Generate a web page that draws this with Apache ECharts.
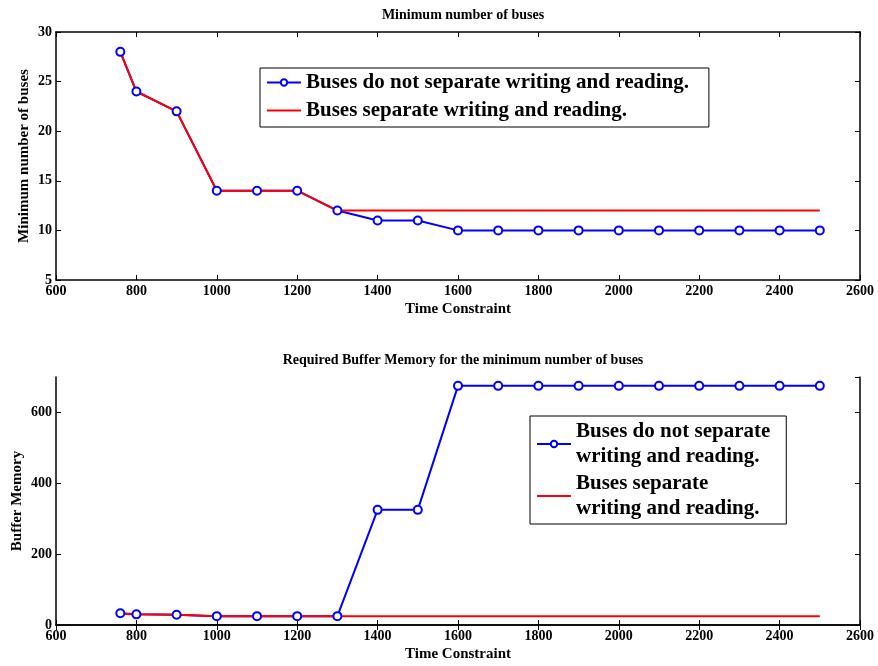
<!DOCTYPE html>
<html>
<head>
<meta charset="utf-8">
<script src="https://cdn.jsdelivr.net/npm/echarts@6/dist/echarts.min.js"></script>
<style>html,body{margin:0;padding:0;background:#fff}#c{width:878px;height:666px}</style>
</head>
<body>
<div id="c"></div>
<script>
var timeConstraint = [760, 800, 900, 1000, 1100, 1200, 1300, 1400, 1500, 1600, 1700, 1800, 1900, 2000, 2100, 2200, 2300, 2400, 2500];
var busesNoSep = [28, 24, 22, 14, 14, 14, 12, 11, 11, 10, 10, 10, 10, 10, 10, 10, 10, 10, 10];
var busesSep = [28, 24, 22, 14, 14, 14, 12, 12, 12, 12, 12, 12, 12, 12, 12, 12, 12, 12, 12];
var memNoSep = [33, 30, 29, 25, 25, 25, 25, 325, 325, 675, 675, 675, 675, 675, 675, 675, 675, 675, 675];
var memSep = [31, 30, 29, 25, 25, 25, 25, 25, 25, 25, 25, 25, 25, 25, 25, 25, 25, 25, 25];
var nameA = 'Buses do not separate writing and reading.';
var nameB = 'Buses separate writing and reading.';

function pairs(xs, ys) { return xs.map(function (x, i) { return [x, ys[i]]; }); }

var F = 'Liberation Serif';
var plain = function (v) { return String(v); };
var lbl = { fontFamily: F, fontWeight: 'bold', fontSize: 14, color: '#000', formatter: plain };
var axLine = { show: true, lineStyle: { color: '#000', width: 1.5 } };
var tick = { show: true, inside: true, length: 5, lineStyle: { color: '#000', width: 1 } };

function xAxes(g) {
  return [
    { type: 'value', gridIndex: g, min: 600, max: 2600, interval: 200, position: 'bottom',
      axisLine: axLine, axisTick: tick, splitLine: { show: false },
      axisLabel: Object.assign({ margin: 4 }, lbl),
      name: 'Time Constraint', nameLocation: 'middle', nameGap: 22,
      nameTextStyle: { fontFamily: F, fontWeight: 'bold', fontSize: 15, color: '#000' } },
    { type: 'value', gridIndex: g, min: 600, max: 2600, interval: 200, position: 'top',
      axisLine: axLine, axisTick: tick, splitLine: { show: false }, axisLabel: { show: false } }
  ];
}

var legendData = [nameA, { name: nameB, itemStyle: { opacity: 0 } }];

var c = echarts.init(document.getElementById('c'));
c.setOption({
  animation: false,
  backgroundColor: '#fff',
  title: [
    { text: 'Minimum number of buses', left: 458, top: 3, textAlign: 'center',
      textStyle: { fontFamily: F, fontWeight: 'bold', fontSize: 14, color: '#000' } },
    { text: 'Required Buffer Memory for the minimum number of buses', left: 458, top: 348, textAlign: 'center',
      textStyle: { fontFamily: F, fontWeight: 'bold', fontSize: 14, color: '#000' } }
  ],
  grid: [
    { left: 56, right: 18, top: 32, height: 248, outerBoundsMode: 'none', containLabel: false },
    { left: 56, right: 18, top: 377, height: 248, outerBoundsMode: 'none', containLabel: false }
  ],
  xAxis: xAxes(0).concat(xAxes(1)),
  yAxis: [
    { type: 'value', gridIndex: 0, min: 5, max: 30, interval: 5, position: 'left',
      axisLine: axLine, axisTick: tick, splitLine: { show: false },
      axisLabel: Object.assign({ margin: 4 }, lbl),
      name: 'Minimum number of buses', nameLocation: 'middle', nameGap: 24, nameMoveOverlap: false,
      nameTextStyle: { fontFamily: F, fontWeight: 'bold', fontSize: 15, color: '#000' } },
    { type: 'value', gridIndex: 0, min: 5, max: 30, interval: 5, position: 'right',
      axisLine: axLine, axisTick: tick, splitLine: { show: false }, axisLabel: { show: false } },
    { type: 'value', gridIndex: 1, min: 0, max: 700, interval: 200, position: 'left',
      axisLine: axLine, axisTick: tick, splitLine: { show: false },
      axisLabel: Object.assign({ margin: 4, showMaxLabel: false }, lbl),
      name: 'Buffer Memory', nameLocation: 'middle', nameGap: 31, nameMoveOverlap: false,
      nameTextStyle: { fontFamily: F, fontWeight: 'bold', fontSize: 15, color: '#000' } },
    { type: 'value', gridIndex: 1, min: 0, max: 700, interval: 200, position: 'right',
      axisLine: axLine, axisTick: tick, splitLine: { show: false }, axisLabel: { show: false } }
  ],
  legend: [
    { orient: 'vertical', left: 260, top: 68, padding: [4, 20, 6, 6], itemGap: 7,
      borderColor: '#000', borderWidth: 1, backgroundColor: '#fff', itemWidth: 34, itemHeight: 8,
      data: legendData,
      textStyle: { fontFamily: F, fontWeight: 'bold', fontSize: 21, color: '#000' } },
    { orient: 'vertical', left: 530, top: 416, padding: [3, 16, 3, 6], itemGap: 2,
      borderColor: '#000', borderWidth: 1, backgroundColor: '#fff', itemWidth: 34, itemHeight: 8,
      data: legendData,
      formatter: function (n) { return n === nameA ? 'Buses do not separate\nwriting and reading.' : 'Buses separate\nwriting and reading.'; },
      textStyle: { fontFamily: F, fontWeight: 'bold', fontSize: 21, lineHeight: 25, color: '#000' } }
  ],
  series: [
    { name: nameA, type: 'line', xAxisIndex: 0, yAxisIndex: 0, data: pairs(timeConstraint, busesNoSep),
      symbol: 'circle', symbolSize: 8, showAllSymbol: true,
      itemStyle: { color: '#fff', borderColor: '#0000ff', borderWidth: 2 },
      lineStyle: { color: '#0000ff', width: 2 } },
    { name: nameB, type: 'line', xAxisIndex: 0, yAxisIndex: 0, data: pairs(timeConstraint, busesSep),
      symbol: 'none', itemStyle: { color: '#ff0000' }, lineStyle: { color: '#ff0000', width: 2 } },
    { name: nameA, type: 'line', xAxisIndex: 2, yAxisIndex: 2, data: pairs(timeConstraint, memNoSep),
      symbol: 'circle', symbolSize: 8, showAllSymbol: true,
      itemStyle: { color: '#fff', borderColor: '#0000ff', borderWidth: 2 },
      lineStyle: { color: '#0000ff', width: 2 } },
    { name: nameB, type: 'line', xAxisIndex: 2, yAxisIndex: 2, data: pairs(timeConstraint, memSep),
      symbol: 'none', itemStyle: { color: '#ff0000' }, lineStyle: { color: '#ff0000', width: 2 } }
  ]
});
</script>
</body>
</html>
